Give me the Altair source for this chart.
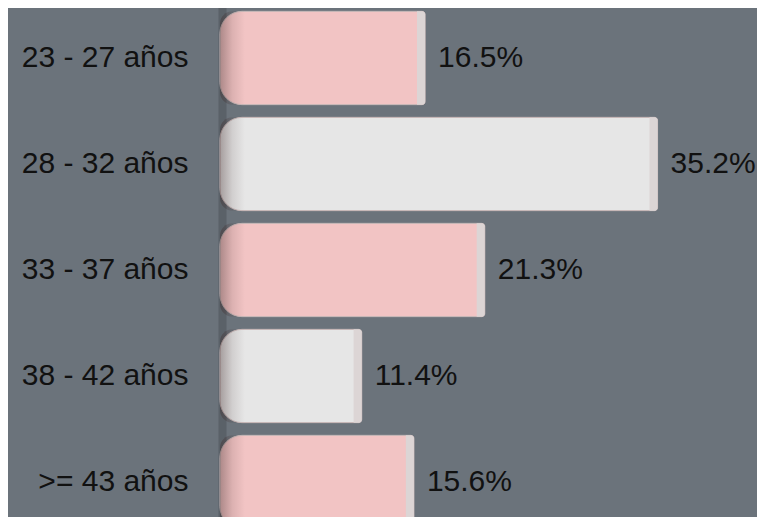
import altair as alt
import pandas as pd

categories = ["23 - 27 años", "28 - 32 años", "33 - 37 años", "38 - 42 años", ">= 43 años"]
values = [16.5, 35.2, 21.3, 11.4, 15.6]
bar_colors = ["#f2c4c4", "#e6e6e6", "#f2c4c4", "#e6e6e6", "#f2c4c4"]

df = pd.DataFrame({"cat": categories, "val": values})

BG = "#6b737b"

y_enc = alt.Y(
    "cat:N",
    sort=categories,
    scale=alt.Scale(range=[-3, 527], paddingInner=0.12, paddingOuter=0.06),
    axis=alt.Axis(
        title=None,
        ticks=False,
        labelPadding=34,
        offset=-2,
        labelFontSize=30,
        labelFont="Liberation Sans",
        labelColor="#111111",
        domainColor="#5a6168",
        domainWidth=8,
        grid=False,
    ),
)
x_scale = alt.Scale(domain=[0, 43.2], nice=False, zero=True)

base = alt.Chart(df)

bars = base.mark_bar(
    cornerRadiusTopLeft=22,
    cornerRadiusBottomLeft=22,
    cornerRadiusTopRight=3,
    cornerRadiusBottomRight=3,
    stroke="#c9b9b9",
    strokeWidth=1,
).encode(
    y=y_enc,
    x=alt.X("val:Q", scale=x_scale, axis=None),
    color=alt.Color("cat:N", scale=alt.Scale(domain=categories, range=bar_colors), legend=None),
)

shade = base.mark_bar(
    cornerRadiusTopLeft=22,
    cornerRadiusBottomLeft=22,
    color=alt.Gradient(
        gradient="linear",
        stops=[
            alt.GradientStop(color="rgba(60,40,40,0.38)", offset=0),
            alt.GradientStop(color="rgba(60,40,40,0.12)", offset=0.5),
            alt.GradientStop(color="rgba(60,40,40,0)", offset=1),
        ],
        x1=0, x2=1, y1=0, y2=0,
    ),
).encode(
    y=y_enc,
    x=alt.datum(0, scale=x_scale),
    x2=alt.datum(2.0),
)

strip = base.transform_calculate(s="datum.val - 0.65").mark_bar(
    color="#dcd5d5",
    cornerRadiusTopRight=3,
    cornerRadiusBottomRight=3,
).encode(
    y=y_enc,
    x=alt.X("s:Q", scale=x_scale),
    x2="val:Q",
)

labels = base.transform_calculate(
    lab="format(datum.val, '.1f') + '%'"
).mark_text(
    align="left",
    baseline="middle",
    dx=13,
    fontSize=30,
    font="Liberation Sans",
    color="#111111",
).encode(
    y=y_enc,
    x=alt.X("val:Q", scale=x_scale),
    text="lab:N",
)

chart = alt.layer(bars, shade, strip, labels).properties(
    width=537,
    height=509,
    padding={"left": 212, "top": 0, "right": 0, "bottom": 0},
    autosize=alt.AutoSizeParams(type="none"),
    background=BG,
).configure_view(stroke=None)

chart.save("out.html", embed_options={"renderer": "svg", "actions": False})
